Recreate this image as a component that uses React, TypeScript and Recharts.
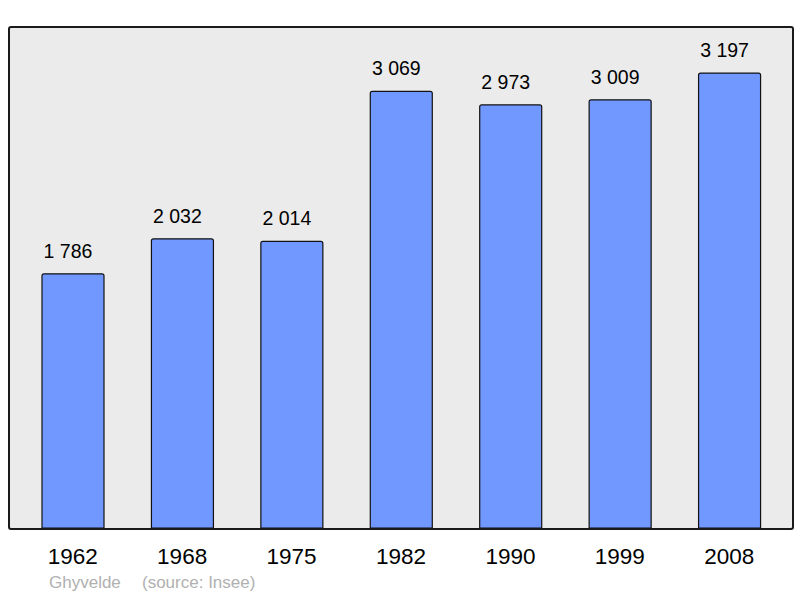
import React from 'react'
import { BarChart, Bar, XAxis, YAxis, CartesianGrid, LabelList } from 'recharts'

const years = ['1962', '1968', '1975', '1982', '1990', '1999', '2008']
const population = [1786, 2032, 2014, 3069, 2973, 3009, 3197]
const commune = 'Ghyvelde'
const source = '(source: Insee)'

const data = years.map((year, i) => ({ year, pop: population[i] }))

const FONT = "'Liberation Sans', Arial, sans-serif"
const Y_MAX = 3521

const fmtPop = (v: any) => {
  const n = Number(v)
  if (n < 1000) return String(n)
  return `${Math.floor(n / 1000)} ${String(n % 1000).padStart(3, '0')}`
}

export default function App() {
  return (
    <div style={{ position: 'absolute', left: 0, top: 0, width: 800, height: 598, background: '#fff', fontFamily: FONT }}>
      <BarChart
        width={800}
        height={598}
        data={data}
        margin={{ top: 27, right: 8, bottom: 30, left: 9 }}
        barSize={62}
      >
        <CartesianGrid fill="#ebebeb" horizontal={false} vertical={false} />
        <XAxis
          dataKey="year"
          axisLine={false}
          tickLine={false}
          tickSize={0}
          tickMargin={20}
          height={40}
          padding={{ left: 9, right: 8 }}
          tick={{ fontSize: 22.5, fill: '#000', fontFamily: FONT }}
          interval={0}
        />
        <YAxis hide domain={[0, Y_MAX]} />
        <Bar dataKey="pop" fill="#7198ff" stroke="#111" strokeWidth={1.2} radius={[2, 2, 0, 0]} isAnimationActive={false}>
          <LabelList
            dataKey="pop"
            position="top"
            offset={16}
            formatter={fmtPop}
            dx={-5}
            style={{ fontSize: 19.5, fill: '#000', fontFamily: FONT }}
          />
        </Bar>
      </BarChart>
      {/* frame round the plot area */}
      <div
        style={{
          position: 'absolute', left: 8, top: 26, width: 782, height: 500,
          border: '2px solid #1a1a1a', borderRadius: 3, pointerEvents: 'none',
        }}
      />
      <div style={{ position: 'absolute', left: 49, top: 573, fontSize: 17, color: '#b0b0b0', whiteSpace: 'pre' }}>
        {commune}
        <span style={{ position: 'absolute', left: 93 }}>{source}</span>
      </div>
    </div>
  )
}
